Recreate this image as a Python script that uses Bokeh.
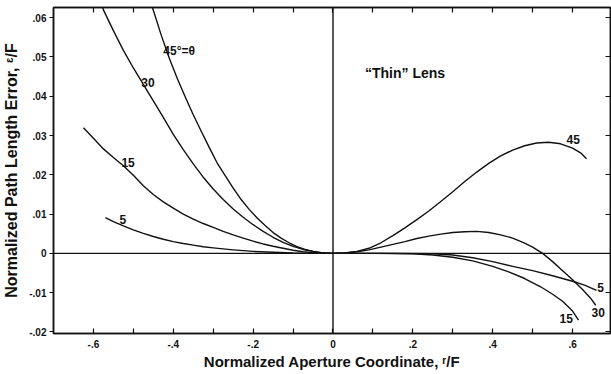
from bokeh.plotting import figure
from bokeh.models import Range1d, LinearAxis, FixedTicker, Span, Label, Grid
from bokeh.embed import file_html
from bokeh.resources import INLINE

# ---- data ----
x45 = [-0.455, -0.45, -0.43, -0.41, -0.39, -0.37, -0.35, -0.33, -0.31, -0.29, -0.27, -0.25, -0.23,
       -0.21, -0.19, -0.17, -0.15, -0.13, -0.11, -0.09, -0.07, -0.05, -0.03, 0.0,
       0.03, 0.06, 0.09, 0.12, 0.15, 0.18, 0.21, 0.24, 0.27, 0.30, 0.33, 0.36, 0.39, 0.42,
       0.45, 0.48, 0.51, 0.54, 0.57, 0.60, 0.62, 0.635]
y45 = [0.0635, 0.0619, 0.0555, 0.0497, 0.0445, 0.0398, 0.0353, 0.0311, 0.0270, 0.0230, 0.0198,
       0.0166, 0.0137, 0.0112, 0.0090, 0.0071, 0.0053, 0.0039, 0.0027, 0.0017, 0.0010, 0.0005,
       0.0002, 0.0,
       0.0001, 0.0005, 0.0013, 0.0027, 0.0045, 0.0065, 0.0086, 0.0108, 0.0132, 0.0157, 0.0183,
       0.0207, 0.0229, 0.0248, 0.0263, 0.0274, 0.0281, 0.0283, 0.0279, 0.0268, 0.0256, 0.0241]

x30 = [-0.58, -0.575, -0.55, -0.525, -0.5, -0.475, -0.45, -0.425, -0.4, -0.375, -0.35, -0.325,
       -0.3, -0.275, -0.25, -0.225, -0.2, -0.175, -0.15, -0.125, -0.1, -0.075, -0.05, -0.025, 0.0,
       0.03, 0.06, 0.09, 0.12, 0.15, 0.18, 0.21, 0.24, 0.27, 0.30, 0.33, 0.36, 0.39, 0.42, 0.45,
       0.48, 0.5, 0.525, 0.55, 0.575, 0.6, 0.625, 0.645, 0.658]
y30 = [0.0635, 0.062, 0.0567, 0.0517, 0.0472, 0.0430, 0.0388, 0.0346, 0.0303, 0.0264, 0.0228,
       0.0194, 0.0164, 0.0137, 0.0113, 0.0092, 0.0073, 0.0056, 0.0041, 0.0028, 0.0018, 0.0010,
       0.0005, 0.0001, 0.0,
       0.0001, 0.0004, 0.0009, 0.0016, 0.0023, 0.0030, 0.0038, 0.0044, 0.0049, 0.0053, 0.0055,
       0.0056, 0.0053, 0.0047, 0.0039, 0.0026, 0.0016, 0.0, -0.0021, -0.0044, -0.0067, -0.0092,
       -0.0114, -0.0132]

x15 = [-0.625, -0.6, -0.575, -0.55, -0.525, -0.5, -0.475, -0.45, -0.425, -0.4, -0.375, -0.35,
       -0.325, -0.3, -0.275, -0.25, -0.225, -0.2, -0.175, -0.15, -0.125, -0.1, -0.075, -0.05,
       -0.025, 0.0,
       0.1, 0.2, 0.25, 0.3, 0.35, 0.4, 0.44, 0.48, 0.52, 0.55, 0.575, 0.6, 0.615]
y15 = [0.032, 0.0293, 0.0266, 0.0244, 0.0223, 0.0199, 0.0172, 0.0150, 0.0131, 0.0115, 0.0100,
       0.0087, 0.0076, 0.0066, 0.0056, 0.0047, 0.0039, 0.0031, 0.0024, 0.0018, 0.0013, 0.0008,
       0.0004, 0.0002, 0.00005, 0.0,
       0.0, -0.0001, -0.0004, -0.0010, -0.0019, -0.0033, -0.0047, -0.0064, -0.0085, -0.0104,
       -0.0122, -0.0147, -0.017]

x5 = [-0.57, -0.55, -0.525, -0.5, -0.475, -0.45, -0.425, -0.4, -0.375, -0.35, -0.325, -0.3,
      -0.25, -0.2, -0.15, -0.1, 0.0,
      0.15, 0.25, 0.3, 0.35, 0.4, 0.45, 0.5, 0.55, 0.6, 0.63, 0.66]
y5 = [0.0091, 0.0081, 0.0070, 0.0060, 0.0051, 0.0043, 0.0036, 0.0030, 0.0025, 0.0021, 0.0017,
      0.0014, 0.0009, 0.0005, 0.0003, 0.0001, 0.0,
      0.0, -0.0001, -0.0004, -0.0011, -0.0021, -0.0033, -0.0044, -0.0057, -0.0071, -0.0081,
      -0.0094]

x_ticks = [-0.6, -0.4, -0.2, 0.0, 0.2, 0.4, 0.6]
x_tick_labels = ["-.6", "-.4", "-.2", "0", ".2", ".4", ".6"]
x_minor_ticks = [-0.5, -0.3, -0.1, 0.1, 0.3, 0.5]
x_all_ticks = [-0.6, -0.5, -0.4, -0.3, -0.2, -0.1, 0.0, 0.1, 0.2, 0.3, 0.4, 0.5, 0.6]
y_ticks = [-0.02, -0.01, 0.0, 0.01, 0.02, 0.03, 0.04, 0.05, 0.06]
y_tick_labels = ["-.02", "-.01", "0", ".01", ".02", ".03", ".04", ".05", ".06"]

FONT = "Liberation Sans"
INK = "#111111"

p = figure(width=611, height=374, output_backend="svg", toolbar_location=None,
           x_range=Range1d(-0.7, 0.695), y_range=Range1d(-0.0204, 0.0626),
           x_axis_location=None, y_axis_location=None,
           min_border_left=53, min_border_right=1, min_border_top=7, min_border_bottom=41)
p.center = [r for r in p.center if not isinstance(r, Grid)]
p.outline_line_color = INK
p.outline_line_width = 1.5
p.background_fill_color = "white"
p.border_fill_color = "white"


def style(ax):
    ax.axis_line_color = INK
    ax.axis_line_width = 1.5
    ax.major_tick_line_color = INK
    ax.minor_tick_line_color = INK
    ax.major_tick_line_width = 1.2
    ax.minor_tick_line_width = 1.2
    ax.major_label_text_font = FONT
    ax.major_label_text_font_style = "bold"
    ax.major_label_text_color = INK
    ax.axis_label_text_font = FONT
    ax.axis_label_text_font_style = "bold"
    ax.axis_label_text_color = INK


bottom = LinearAxis(ticker=FixedTicker(ticks=x_ticks, minor_ticks=x_minor_ticks),
                    axis_label="Normalized Aperture Coordinate, ʳ/F")
style(bottom)
bottom.major_tick_in = 5
bottom.major_tick_out = 0
bottom.minor_tick_in = 5
bottom.minor_tick_out = 0
bottom.major_label_standoff = 6
bottom.major_label_text_font_size = "10px"
bottom.axis_label_text_font_size = "15px"
bottom.axis_label_standoff = 2
bottom.major_label_overrides = dict(zip(x_ticks, x_tick_labels))
p.add_layout(bottom, "below")

# top: tick marks only (drawn as minor ticks, so no labels)
top = LinearAxis(ticker=FixedTicker(ticks=[], minor_ticks=x_all_ticks))
style(top)
top.major_tick_in = 0
top.major_tick_out = 0
top.minor_tick_in = 5
top.minor_tick_out = 0
top.major_label_standoff = 0
top.axis_label_standoff = 0
p.add_layout(top, "above")

left = LinearAxis(ticker=FixedTicker(ticks=y_ticks, minor_ticks=[]),
                  axis_label="Normalized Path Length Error, ᵋ/F")
style(left)
left.major_tick_in = 0
left.major_tick_out = 4
left.minor_tick_in = 0
left.minor_tick_out = 0
left.major_label_standoff = 3
left.major_label_text_font_size = "10px"
left.axis_label_text_font_size = "16px"
left.axis_label_standoff = 6
left.major_label_overrides = dict(zip(y_ticks, y_tick_labels))
p.add_layout(left, "left")

right = LinearAxis(ticker=FixedTicker(ticks=[], minor_ticks=y_ticks))
style(right)
right.major_tick_in = 0
right.major_tick_out = 0
right.minor_tick_in = 5
right.minor_tick_out = 0
right.major_label_standoff = 0
right.axis_label_standoff = 0
p.add_layout(right, "right")

# zero lines
p.add_layout(Span(location=0, dimension="width", line_color=INK, line_width=1.4))
p.add_layout(Span(location=0, dimension="height", line_color=INK, line_width=1.4))

for xs, ys in [(x45, y45), (x30, y30), (x15, y15), (x5, y5)]:
    p.line(xs, ys, line_color=INK, line_width=1.4, line_join="round")


def lab(x, y, t, size="12px"):
    p.add_layout(Label(x=x, y=y, text=t, text_font=FONT, text_font_style="bold",
                       text_font_size=size, text_color=INK, text_baseline="middle",
                       text_align="left"))


lab(-0.425, 0.0514, "45°=θ")
lab(-0.48, 0.0435, "30")
lab(-0.53, 0.0232, "15")
lab(-0.535, 0.0087, "5")
lab(0.585, 0.029, "45")
lab(0.662, -0.0087, "5")
lab(0.6475, -0.015, "30")
lab(0.5675, -0.0165, "15")
lab(0.08, 0.046, "“Thin” Lens", size="14px")

open("out.html", "w").write(file_html(p, INLINE))
